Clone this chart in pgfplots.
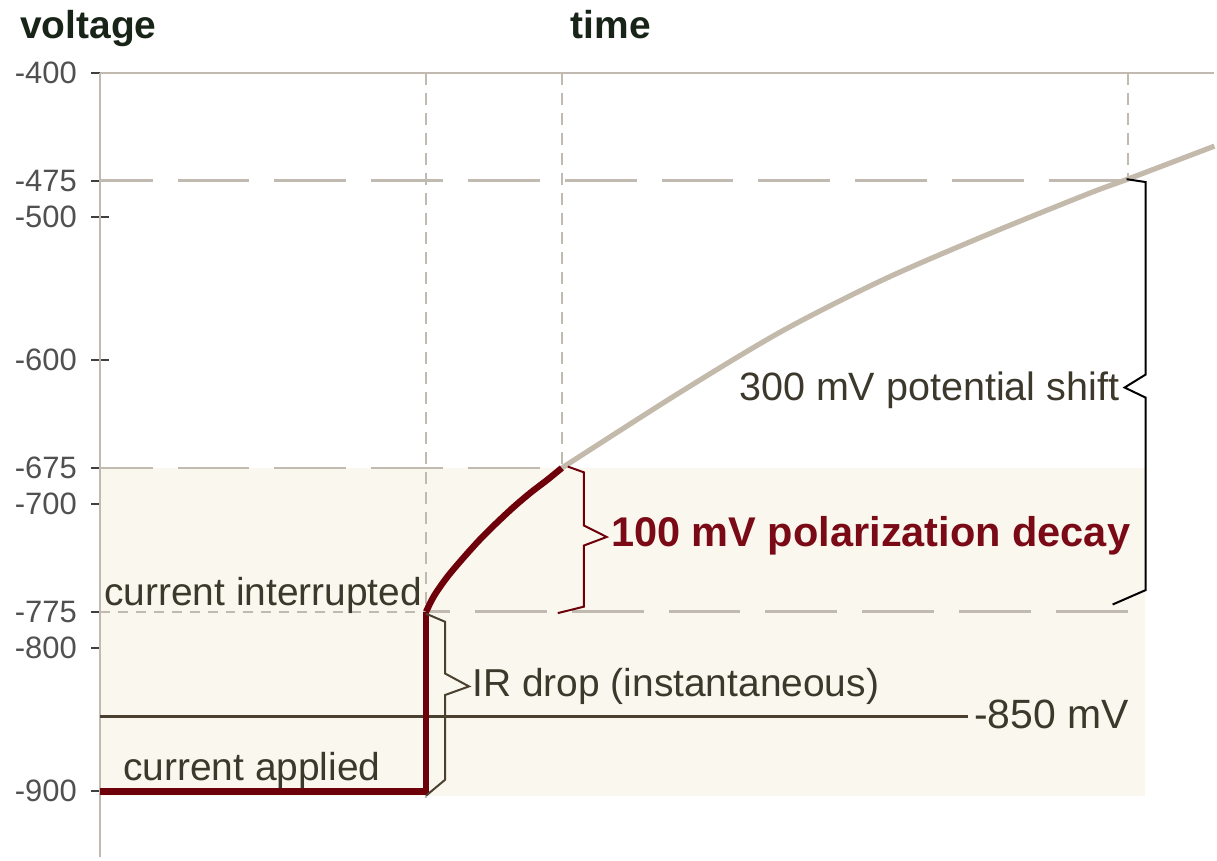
\documentclass[border=0pt]{standalone}
\usepackage{pgfplots}
\pgfplotsset{compat=1.18}
\usepackage{fontspec}
\setmainfont{Liberation Sans}
\definecolor{shade}{RGB}{250,247,238}
\definecolor{gridc}{RGB}{192,186,176}
\definecolor{curveg}{RGB}{196,186,172}
\definecolor{darkred}{RGB}{110,0,10}
\definecolor{txt}{RGB}{60,56,44}
\definecolor{brownl}{RGB}{74,64,48}
\definecolor{boldred}{RGB}{122,10,22}
\definecolor{ticklab}{RGB}{80,80,80}
\definecolor{titlec}{RGB}{24,36,24}
\begin{document}
\begin{tikzpicture}
\begin{axis}[
  x=0.5pt, y=0.72pt,
  xmin=0, xmax=1117, ymin=-946, ymax=-400,
  axis x line=none,
  axis y line*=left,
  axis line style={draw=gridc, line width=1pt},
  xtick=\empty,
  ytick={-900,-800,-775,-700,-675,-600,-500,-475,-400},
  yticklabels={-900,-800,-775,-700,-675,-600,-500,-475,-400},
  tick align=center,
  major tick length=9pt,
  tick style={draw=black!75, line width=1pt},
  yticklabel style={font=\fontsize{15.5}{15.5}\selectfont, text=ticklab, xshift=-3.5pt},
  clip=false,
  no markers,
]
% invisible bounding box
\path (axis cs:-100,-349.3) rectangle (axis cs:1117,-947.9);
% shaded region
\addplot[fill=shade, draw=none] coordinates {(1,-675) (1047,-675) (1047,-903) (1,-903)} -- cycle;
% long dashed reference lines
\addplot[gridc, line width=1.2pt, dash pattern=on 36pt off 12.5pt, dash phase=9.5pt] coordinates {(0,-475) (1030,-475)};
\addplot[gridc, line width=1.2pt, dash pattern=on 36pt off 12.5pt, dash phase=9.5pt] coordinates {(0,-675) (463,-675)};
\addplot[gridc, line width=1.2pt, dash pattern=on 36pt off 12.5pt, dash phase=24pt] coordinates {(327,-775) (1035,-775)};
% short dashed
\addplot[gridc, line width=1pt, dash pattern=on 5pt off 4pt] coordinates {(0,-775) (327,-775)};
\addplot[gridc, line width=1pt, dash pattern=on 6pt off 4pt] coordinates {(327,-400) (327,-905)};
\addplot[gridc, line width=1pt, dash pattern=on 6pt off 4pt] coordinates {(463,-400) (463,-675)};
\addplot[gridc, line width=1pt, dash pattern=on 6pt off 4pt] coordinates {(1030,-400) (1030,-475)};
% top line
\addplot[gridc, line width=1.2pt] coordinates {(0,-400) (1117,-400)};
% -850 mV line
\addplot[brownl, line width=1.2pt] coordinates {(0,-848) (870,-848)};
% continued potential decay (grey)
\addplot[curveg, line width=2.6pt, smooth] coordinates {(463,-675) (580,-623) (683,-580) (785,-544) (888,-513) (991,-484) (1030,-474) (1117,-451)};
% applied / interrupted (dark red)
\addplot[darkred, line width=3.2pt, line join=miter] coordinates {(0,-900) (327,-900) (327,-775)};
\addplot[darkred, line width=3.2pt, smooth] coordinates {(327,-775) (335,-764) (348,-751) (365,-737) (382,-724) (398,-713) (415,-702) (432,-692) (448,-683.5) (463,-675)};
% braces
\addplot[brownl, line width=1pt] coordinates {(327,-776.4) (346,-782) (346,-818) (370,-827) (346,-833) (346,-892) (327,-903)};
\addplot[darkred, line width=1pt] coordinates {(469,-674) (485,-678) (485,-715) (508,-723) (485,-729) (485,-771.5) (459,-776)};
\addplot[black, line width=1pt] coordinates {(1029,-474) (1048,-476) (1048,-610) (1027,-619) (1048,-626) (1048,-760) (1015,-770)};
% texts
\node[anchor=base west, inner sep=0, font=\bfseries\fontsize{19.5}{20}\selectfont, text=titlec] at (axis cs:-80,-376.4) {voltage};
\node[anchor=base, inner sep=0, font=\bfseries\fontsize{19.5}{20}\selectfont, text=titlec] at (axis cs:512,-376.4) {time};
\node[anchor=base west, inner sep=0, font=\fontsize{19.5}{20}\selectfont, text=txt] at (axis cs:4,-770.8) {current interrupted};
\node[anchor=base west, inner sep=0, font=\fontsize{19.5}{20}\selectfont, text=txt] at (axis cs:23,-892.4) {current applied};
\node[anchor=base west, inner sep=0, font=\fontsize{19.5}{20}\selectfont, text=txt] at (axis cs:373,-834) {IR drop (instantaneous)};
\node[anchor=base west, inner sep=0, font=\fontsize{20.5}{21}\selectfont, text=txt] at (axis cs:876,-856) {-850 mV};
\node[anchor=base west, inner sep=0, font=\bfseries\fontsize{20.8}{21}\selectfont, text=boldred] at (axis cs:512,-729.9) {100 mV polarization decay};
\node[anchor=base east, inner sep=0, font=\fontsize{19.8}{20}\selectfont, text=txt] at (axis cs:1022,-627.8) {300 mV potential shift};
\end{axis}
\end{tikzpicture}
\end{document}
